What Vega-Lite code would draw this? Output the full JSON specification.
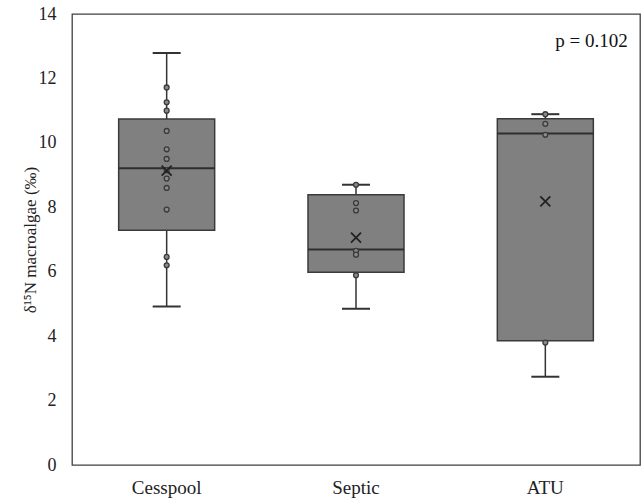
{
  "$schema": "https://vega.github.io/schema/vega-lite/v6.json",
  "width": 568,
  "height": 451,
  "autosize": {"type": "none"},
  "padding": {"left": 72, "top": 14, "right": 1, "bottom": 33},
  "background": "white",
  "config": {
    "font": "Liberation Serif",
    "view": {"stroke": "#404040", "strokeWidth": 1.3},
    "axis": {
      "grid": false,
      "ticks": false,
      "domain": false,
      "labelFont": "Liberation Serif",
      "labelFontSize": 18,
      "labelColor": "#222222",
      "titleFont": "Liberation Serif",
      "titleColor": "#222222"
    }
  },
  "datasets": {
    "summary": [
      {"group": "Cesspool", "min": 4.92, "q1": 7.29, "median": 9.21, "q3": 10.74, "max": 12.79, "mean": 9.14},
      {"group": "Septic", "min": 4.85, "q1": 5.98, "median": 6.69, "q3": 8.39, "max": 8.70, "mean": 7.06},
      {"group": "ATU", "min": 2.74, "q1": 3.86, "median": 10.29, "q3": 10.75, "max": 10.89, "mean": 8.18}
    ],
    "points": [
      {"group": "Cesspool", "value": 11.72},
      {"group": "Cesspool", "value": 11.26},
      {"group": "Cesspool", "value": 11.00},
      {"group": "Cesspool", "value": 10.37},
      {"group": "Cesspool", "value": 9.80},
      {"group": "Cesspool", "value": 9.50},
      {"group": "Cesspool", "value": 9.15},
      {"group": "Cesspool", "value": 8.89},
      {"group": "Cesspool", "value": 8.60},
      {"group": "Cesspool", "value": 7.93},
      {"group": "Cesspool", "value": 6.46},
      {"group": "Cesspool", "value": 6.20},
      {"group": "Septic", "value": 8.70},
      {"group": "Septic", "value": 8.13},
      {"group": "Septic", "value": 7.90},
      {"group": "Septic", "value": 6.65},
      {"group": "Septic", "value": 6.53},
      {"group": "Septic", "value": 5.89},
      {"group": "ATU", "value": 10.89},
      {"group": "ATU", "value": 10.59},
      {"group": "ATU", "value": 10.25},
      {"group": "ATU", "value": 3.80}
    ],
    "note": [{"group": "ATU", "y": 13.15, "label": "p = 0.102"}]
  },
  "encoding": {
    "x": {
      "field": "group",
      "type": "nominal",
      "sort": ["Cesspool", "Septic", "ATU"],
      "scale": {"paddingInner": 0, "paddingOuter": 0},
      "axis": {"title": null, "labelAngle": 0, "labelPadding": 13, "labelFontSize": 19}
    }
  },
  "layer": [
    {
      "data": {"name": "summary"},
      "mark": {"type": "rule", "color": "#333333", "strokeWidth": 1.5},
      "encoding": {
        "y": {
          "field": "min",
          "type": "quantitative",
          "scale": {"domain": [0, 14], "nice": false},
          "axis": {
            "values": [0, 2, 4, 6, 8, 10, 12, 14],
            "title": "δ¹⁵N macroalgae (‰)",
            "titleFontSize": 17,
            "titleFontWeight": "normal",
            "titlePadding": -1,
            "labelPadding": 16
          }
        },
        "y2": {"field": "max"}
      }
    },
    {
      "data": {"name": "summary"},
      "mark": {"type": "bar", "size": 96, "fill": "#808080", "stroke": "#3a3a3a", "strokeWidth": 1.5},
      "encoding": {
        "y": {"field": "q1", "type": "quantitative"},
        "y2": {"field": "q3"}
      }
    },
    {
      "data": {"name": "summary"},
      "mark": {"type": "tick", "size": 96, "thickness": 2, "color": "#2e2e2e", "opacity": 1},
      "encoding": {"y": {"field": "median", "type": "quantitative"}}
    },
    {
      "data": {"name": "summary"},
      "mark": {"type": "tick", "size": 28, "thickness": 2, "color": "#333333", "opacity": 1},
      "encoding": {"y": {"field": "max", "type": "quantitative"}}
    },
    {
      "data": {"name": "summary"},
      "mark": {"type": "tick", "size": 28, "thickness": 2, "color": "#333333", "opacity": 1},
      "encoding": {"y": {"field": "min", "type": "quantitative"}}
    },
    {
      "data": {"name": "points"},
      "mark": {"type": "point", "shape": "circle", "filled": true, "fill": "#8a8a8a", "stroke": "#3a3a3a", "strokeWidth": 1.3, "size": 24, "opacity": 1},
      "encoding": {"y": {"field": "value", "type": "quantitative"}}
    },
    {
      "data": {"name": "summary"},
      "mark": {"type": "point", "shape": "M-1,-1L1,1M-1,1L1,-1", "filled": false, "stroke": "#222222", "strokeWidth": 1.8, "size": 100, "opacity": 1},
      "encoding": {"y": {"field": "mean", "type": "quantitative"}}
    },
    {
      "data": {"name": "note"},
      "mark": {"type": "text", "align": "left", "baseline": "middle", "dx": 10, "fontSize": 19, "font": "Liberation Serif", "color": "#111111"},
      "encoding": {
        "y": {"field": "y", "type": "quantitative"},
        "text": {"field": "label"}
      }
    }
  ]
}
